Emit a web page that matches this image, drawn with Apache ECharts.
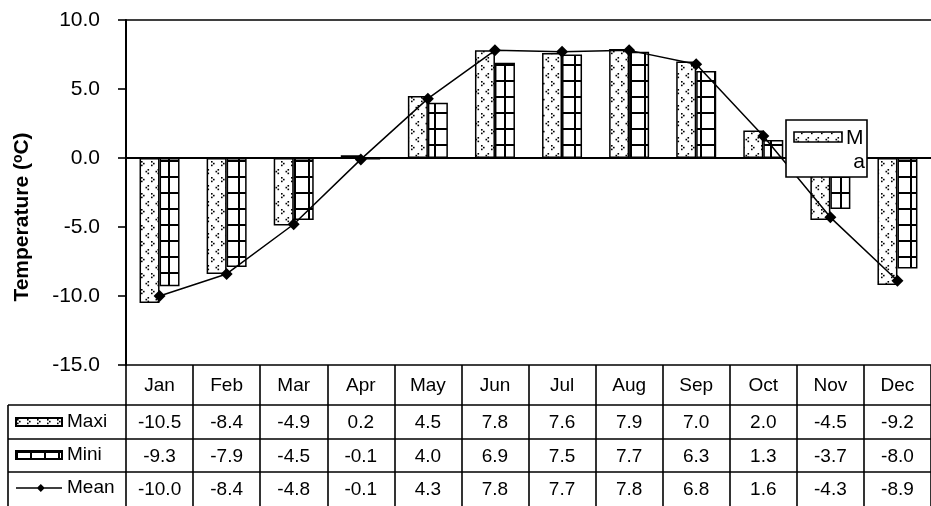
<!DOCTYPE html>
<html>
<head>
<meta charset="utf-8">
<script src="https://cdn.jsdelivr.net/npm/echarts@6/dist/echarts.min.js"></script>
<style>
  html, body { margin: 0; padding: 0; background: #fff; }
  #chart { width: 931px; height: 506px; }
</style>
</head>
<body>
<div id="chart"></div>
<script>
// Monthly temperatures (ºC)
const months = ['Jan', 'Feb', 'Mar', 'Apr', 'May', 'Jun', 'Jul', 'Aug', 'Sep', 'Oct', 'Nov', 'Dec'];
const maxi = [-10.5, -8.4, -4.9, 0.2, 4.5, 7.8, 7.6, 7.9, 7.0, 2.0, -4.5, -9.2];
const mini = [-9.3, -7.9, -4.5, -0.1, 4.0, 6.9, 7.5, 7.7, 6.3, 1.3, -3.7, -8.0];
const mean = [-10.0, -8.4, -4.8, -0.1, 4.3, 7.8, 7.7, 7.8, 6.8, 1.6, -4.3, -8.9];
const yMin = -15, yMax = 10, yStep = 5;

const FONT = '"Liberation Sans", Arial, sans-serif';
const INK = '#000';

// Layout of the plot and the data table under it
const G = { left: 126, top: 20, right: -12, bottom: 141 };
const tableTop = 506 - G.bottom;          // top edge of the data table
const rowH = [40, 34, 33, 34];            // header, Maxi, Mini, Mean
const rowTop = [0, 40, 74, 107];          // offsets below tableTop

// Dotted fill: little "<" and ">" marks on white
function dotTile() {
  const c = document.createElement('canvas');
  c.width = 10; c.height = 16;
  const g = c.getContext('2d');
  g.fillStyle = '#fff'; g.fillRect(0, 0, 10, 16);
  g.fillStyle = INK;
  const d = 1.6;
  // ">"
  g.fillRect(1, 1, d, d); g.fillRect(3, 2.8, d, d); g.fillRect(1, 4.6, d, d);
  // "<"
  g.fillRect(7.5, 9, d, d); g.fillRect(5.5, 10.8, d, d); g.fillRect(7.5, 12.6, d, d);
  return c;
}
// Grid fill: black lattice on white
function gridTile() {
  const c = document.createElement('canvas');
  c.width = 14; c.height = 16;
  const g = c.getContext('2d');
  g.fillStyle = '#fff'; g.fillRect(0, 0, 14, 16);
  g.fillStyle = INK;
  g.fillRect(0, 0, 14, 2);
  g.fillRect(0, 0, 2, 16);
  return c;
}
const dotFill = { image: dotTile(), repeat: 'repeat' };
const gridFill = { image: gridTile(), repeat: 'repeat' };

const lineW = 1.6;

function tableAxis(i, fmt) {
  return {
    type: 'category', data: months, position: 'bottom', offset: rowTop[i],
    axisLine: { show: true, onZero: false, lineStyle: { color: INK, width: lineW } },
    axisTick: { show: true, interval: 0, inside: false, length: rowH[i], lineStyle: { color: INK, width: lineW } },
    axisLabel: { show: true, interval: 0, margin: Math.round(rowH[i] / 2 - 9), color: INK, fontSize: 19, fontFamily: FONT, formatter: fmt },
    splitLine: { show: false }
  };
}
const fmt1 = arr => (v, idx) => arr[idx].toFixed(1);

const chart = echarts.init(document.getElementById('chart'), null, { renderer: 'canvas' });

const boxZ = 100;

chart.setOption({
  animation: false,
  backgroundColor: '#fff',
  grid: { left: G.left, top: G.top, right: G.right, bottom: G.bottom, containLabel: false },
  xAxis: [
    { // category line through zero
      type: 'category', data: months,
      axisLine: { show: true, onZero: true, lineStyle: { color: INK, width: 2 } },
      axisTick: { show: false }, axisLabel: { show: false }, splitLine: { show: false }
    },
    { // top border of the plot
      type: 'category', data: months, position: 'top',
      axisLine: { show: true, onZero: false, lineStyle: { color: INK, width: lineW } },
      axisTick: { show: false }, axisLabel: { show: false }, splitLine: { show: false }
    },
    tableAxis(0, v => v),
    tableAxis(1, fmt1(maxi)),
    tableAxis(2, fmt1(mini)),
    tableAxis(3, fmt1(mean))
  ],
  yAxis: {
    type: 'value', min: yMin, max: yMax, interval: yStep,
    axisLine: { show: true, lineStyle: { color: INK, width: 2 } },
    axisTick: { show: true, inside: false, length: 8, lineStyle: { color: INK, width: lineW } },
    axisLabel: { color: INK, fontSize: 21, fontFamily: FONT, margin: 26, formatter: v => v.toFixed(1) },
    splitLine: { show: false }
  },
  legend: {
    orient: 'vertical', left: 15, top: tableTop + rowTop[1] + 7,
    itemWidth: 46, itemHeight: 8, itemGap: 13, padding: 0,
    selectedMode: false,
    textStyle: { color: INK, fontSize: 19, fontFamily: FONT, lineHeight: 20 },
    data: [
      { name: 'Maxi', icon: 'rect' },
      { name: 'Mini', icon: 'rect' },
      { name: 'Mean', icon: 'path://M0,4.1L57.5,4.1L57.5,5.9L0,5.9Z M31,0L36,5L31,10L26,5Z' }
    ]
  },
  graphic: [
    // left part of the data table
    { type: 'line', shape: { x1: 8, y1: tableTop + rowTop[1], x2: G.left, y2: tableTop + rowTop[1] }, style: { stroke: INK, lineWidth: lineW } },
    { type: 'line', shape: { x1: 8, y1: tableTop + rowTop[2], x2: G.left, y2: tableTop + rowTop[2] }, style: { stroke: INK, lineWidth: lineW } },
    { type: 'line', shape: { x1: 8, y1: tableTop + rowTop[3], x2: G.left, y2: tableTop + rowTop[3] }, style: { stroke: INK, lineWidth: lineW } },
    { type: 'line', shape: { x1: 8, y1: tableTop + rowTop[1], x2: 8, y2: 506 }, style: { stroke: INK, lineWidth: lineW } },
    // axis title
    {
      type: 'text', x: 22, y: 217, rotation: Math.PI / 2,
      style: {
        text: 'Temperature ({s|o}C)',
        font: 'bold 21px ' + FONT, fill: INK, align: 'center', verticalAlign: 'middle',
        rich: { s: { fontSize: 14, fontWeight: 'bold', fontFamily: FONT, verticalAlign: 'top', padding: [0, 0, 6, 0] } }
      }
    },
    // legend box inside the plot
    { type: 'rect', z: boxZ, shape: { x: 786, y: 120, width: 81, height: 57 }, style: { fill: '#fff', stroke: INK, lineWidth: lineW } },
    { type: 'rect', z: boxZ + 1, shape: { x: 794, y: 132, width: 48, height: 10 }, style: { fill: dotFill, stroke: INK, lineWidth: lineW } },
    { type: 'text', z: boxZ + 1, x: 846, y: 138, style: { text: 'M', font: '21px ' + FONT, fill: INK, align: 'left', verticalAlign: 'middle' } },
    { type: 'text', z: boxZ + 1, x: 865, y: 162, style: { text: 'a', font: '21px ' + FONT, fill: INK, align: 'right', verticalAlign: 'middle' } }
  ],
  series: [
    {
      name: 'Maxi', type: 'bar', data: maxi, barWidth: 20, barGap: '0%',
      itemStyle: { color: dotFill, borderColor: INK, borderWidth: 1.5 }
    },
    {
      name: 'Mini', type: 'bar', data: mini, barWidth: 20, barGap: '0%',
      itemStyle: { color: gridFill, borderColor: INK, borderWidth: 1.5 }
    },
    {
      name: 'Mean', type: 'line', data: mean, z: 5,
      symbol: 'diamond', symbolSize: 12,
      lineStyle: { color: INK, width: 1.5 },
      itemStyle: { color: INK }
    }
  ]
});
</script>
</body>
</html>
